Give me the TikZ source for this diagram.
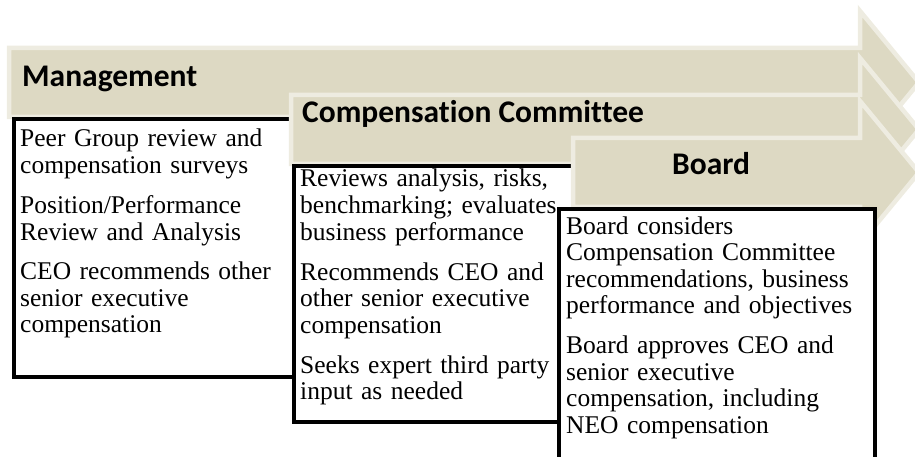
\documentclass[tikz,border=0pt]{standalone}
\usepackage{fontspec}
\usetikzlibrary{positioning}
\newfontfamily\headfont{Carlito}[Ligatures=NoCommon]
\newfontfamily\bodyfont{Liberation Serif}
\definecolor{stagefill}{RGB}{221,217,195}
\definecolor{stageedge}{RGB}{238,236,225}
\tikzset{
  stage/.style={fill=stagefill, draw=stageedge, line width=4.5pt},
  stagelabel/.style={font=\headfont\bfseries\fontsize{31.5}{34}\selectfont, anchor=base west, inner sep=0pt},
  duties/.style={draw=black, fill=white, line width=4pt, anchor=north west, inner sep=0pt},
  dutytext/.style={font=\bodyfont\fontsize{25.5}{26.5}\selectfont, text width=310pt, align=left, inner sep=0pt},
}
\newcommand{\phasearrow}[2]{%
  \draw[stage] (#1,#2) -- (860,#2) -- (860,#2-37) -- (919,#2+34.5)
    -- (860,#2+106) -- (860,#2+69) -- (#1,#2+69) -- cycle;}

\begin{document}
\begin{tikzpicture}[x=1pt, y=-1pt]
  \path[use as bounding box, clip] (0,0) rectangle (915,457);

  \phasearrow{9}{48}
  \node[stagelabel] (mgmt) at (22,87) {Management};
  \node[duties, minimum width=298pt, minimum height=258pt] (mgmtbox) at (12,117) {};
  \node[dutytext, below right=30pt and 8pt of mgmtbox.north west, anchor=base west] (mgmttext)
    {Peer Group review and\\compensation surveys\\[13.5pt]
     Position/Performance\\Review and Analysis\\[13.5pt]
     CEO recommends other\\senior executive\\compensation};

  \phasearrow{291}{95}
  \node[stagelabel] (comm) at (302,123) {Compensation Committee};
  \node[duties, minimum width=298pt, minimum height=256pt] (commbox) at (292,164) {};
  \node[dutytext, below right=23pt and 8pt of commbox.north west, anchor=base west] (commtext)
    {Reviews analysis, risks,\\benchmarking; evaluates\\business performance\\[13.5pt]
     Recommends CEO and\\other senior executive\\compensation\\[13.5pt]
     Seeks expert third party\\input as needed};

  \phasearrow{573}{138}
  \node[stagelabel] (board) at (672,175) {Board};
  \node[duties, minimum width=316pt, minimum height=290pt] (boardbox) at (557,207) {};
  \node[dutytext, below right=27pt and 9pt of boardbox.north west, anchor=base west] (boardtext)
    {Board considers\\Compensation Committee\\recommendations, business\\performance and objectives\\[13.5pt]
     Board approves CEO and\\senior executive\\compensation, including\\NEO compensation};
\end{tikzpicture}
\end{document}
